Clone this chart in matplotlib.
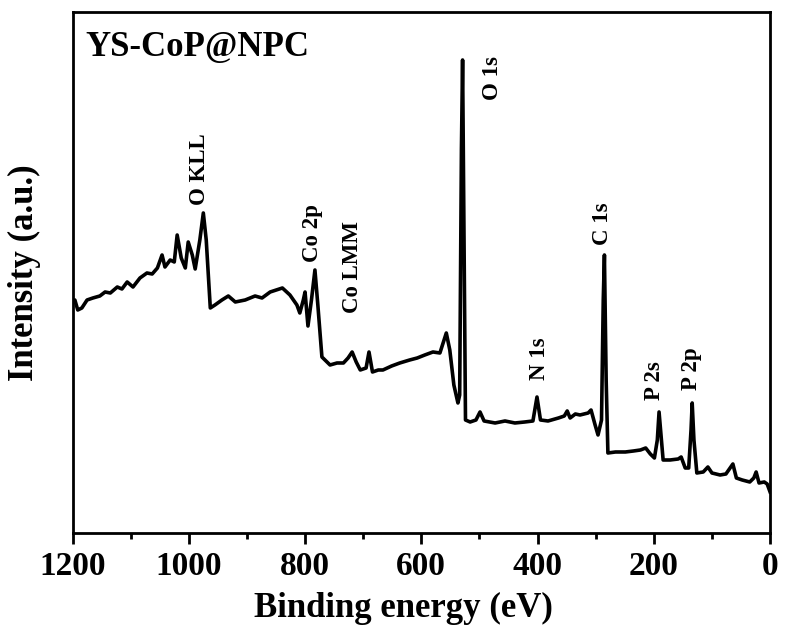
import matplotlib.pyplot as plt

plt.rcParams['font.family'] = ['Liberation Serif', 'DejaVu Serif']
plt.rcParams['font.weight'] = 'bold'

# XPS survey, YS-CoP@NPC (intensity in arbitrary units)
energy = [1200, 1196, 1191, 1184, 1175, 1165, 1153, 1144, 1135, 1123, 1115, 1106,
          1096, 1084, 1072, 1063, 1054, 1046, 1041, 1032, 1025, 1020, 1013, 1006,
          1001, 994, 989, 981, 975, 970, 963, 955, 943, 932, 920, 903, 886, 874,
          860, 839, 826, 814, 809, 803, 800, 795, 789, 783, 778, 771, 757, 745,
          734, 726, 719, 712, 705, 695, 690, 684, 674, 666, 651, 637, 620, 607,
          594, 580, 568, 557, 551, 544, 537, 534, 531, 529, 527, 524, 516, 506,
          499, 492, 473, 456, 439, 422, 408, 401, 395, 382, 364, 354, 349, 344,
          335, 327, 313, 308, 301, 296, 290, 287, 285, 282, 279, 266, 249, 235,
          223, 214, 206, 199, 194, 191, 187, 184, 172, 158, 153, 146, 140, 136,
          134, 131, 126, 115, 107, 100, 86, 76, 64, 58, 48, 35, 28, 24, 19, 10, 5, 0]
intensity = [231, 233, 223, 225, 233, 235, 237, 241, 240, 246, 244, 251,
             246, 255, 260, 259, 265, 278, 266, 273, 271, 298, 275, 265,
             291, 278, 264, 293, 320, 293, 225, 228, 233, 237, 231, 233, 237, 235,
             241, 245, 238, 228, 220, 233, 241, 207, 233, 263, 228, 176, 168, 170,
             170, 175, 181, 171, 163, 165, 181, 161, 163, 163, 167, 170, 173, 175,
             178, 181, 180, 200, 183, 148, 130, 138, 383, 473, 333, 113, 111, 113,
             121, 112, 110, 112, 110, 111, 112, 136, 113, 112, 115, 117, 122, 115,
             119, 118, 120, 123, 108, 98, 113, 233, 278, 153, 80, 81, 81, 82,
             83, 85, 79, 75, 93, 121, 93, 73, 73, 74, 76, 65, 65, 103,
             130, 93, 60, 61, 66, 60, 58, 59, 69, 55, 53, 51, 55, 61, 50, 51, 49, 41]

peak_labels = ['O KLL', 'Co 2p', 'Co LMM', 'O 1s', 'N 1s', 'C 1s', 'P 2s', 'P 2p']
label_x = [981, 788, 719, 478, 396, 289, 198, 136]
label_y = [328, 271, 220, 433, 153, 288, 133, 143]

fig = plt.figure(figsize=(7.85, 6.28), dpi=100)
ax = fig.add_axes([0.0924, 0.1513, 0.8886, 0.8296])

ax.plot(energy, intensity, color='black', lw=2.6)

for name, x, y in zip(peak_labels, label_x, label_y):
    ax.text(x, y, name, rotation=90, ha='center', va='bottom', fontsize=16.5, fontweight='bold')

ax.text(1178, 485, 'YS-CoP@NPC', ha='left', va='center', fontsize=25, fontweight='bold')

ax.set_xlim(1200, 0)
ax.set_ylim(0, 521)
ax.set_xticks(range(0, 1201, 200))
ax.set_xticks(range(100, 1200, 200), minor=True)
ax.set_yticks([])
ax.tick_params(axis='x', which='major', direction='out', length=8, width=2, labelsize=24, pad=5)
ax.tick_params(axis='x', which='minor', direction='out', length=4, width=2)
for lbl in ax.get_xticklabels():
    lbl.set_fontweight('bold')
for s in ax.spines.values():
    s.set_linewidth(2)

ax.set_xlabel('Binding energy (eV)', fontsize=25, fontweight='bold')
ax.xaxis.set_label_coords(0.475, -0.113)
ax.set_ylabel('Intensity (a.u.)', fontsize=25, fontweight='bold')
ax.yaxis.set_label_coords(-0.045, 0.5)

fig.savefig('out.png', dpi=100)
